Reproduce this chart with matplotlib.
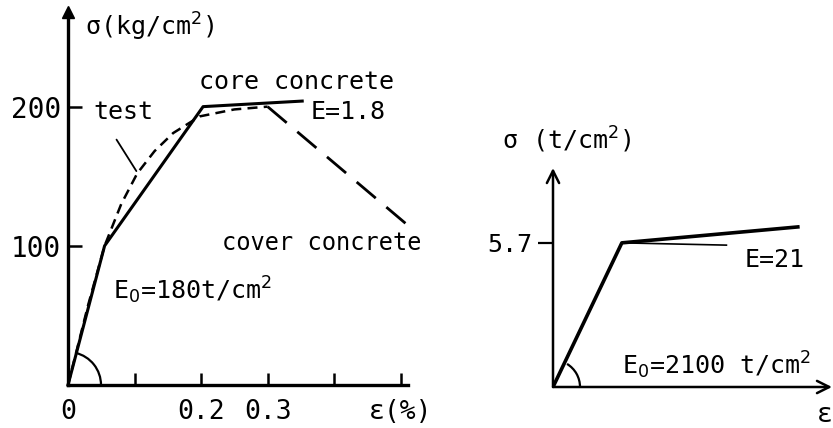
import matplotlib.pyplot as plt
import numpy as np
from matplotlib.patches import Arc

# concrete model (left), strain in %, stress in kg/cm2
core_strain = [0.0, 0.055, 0.203, 0.352]
core_stress = [0.0, 100.0, 200.0, 204.0]
test_strain = [0.0, 0.03, 0.055, 0.08, 0.104, 0.13, 0.158, 0.198, 0.25, 0.30]
test_stress = [0.0, 57.0, 100.0, 130.0, 152.0, 168.0, 181.0, 193.0, 198.0, 200.0]
cover_strain = [0.30, 0.52]
cover_stress = [200.0, 111.0]
conc_xticks = [0.0, 0.1, 0.2, 0.3, 0.4, 0.5]
conc_xlabels = ["0", "", "0.2", "0.3", "", "ε(%)"]
conc_yticks = [100, 200]

# steel model (right), stress in t/cm2
steel_strain = [0.0, 0.0027, 0.0096]
steel_stress = [0.0, 5.7, 6.33]
ref_strain = [0.0027, 0.0068]
ref_stress = [5.7, 5.61]

FONT = "DejaVu Sans Mono"
plt.rcParams["font.family"] = [FONT, "DejaVu Sans"]
plt.rcParams["mathtext.fontset"] = "dejavusans"


def angle_arc(ax, x, y, r_px):
    """Arc at the origin, from the x-axis up to the first line segment."""
    ax.figure.canvas.draw()
    p0 = ax.transData.transform((0, 0))
    p1 = ax.transData.transform((x, y))
    theta = np.degrees(np.arctan2(p1[1] - p0[1], p1[0] - p0[0]))
    bb = ax.get_window_extent()
    arc = Arc((0, 0), 2 * r_px / bb.width, 2 * r_px / bb.height,
              theta1=0, theta2=theta, transform=ax.transAxes,
              color="black", lw=1.6, clip_on=False)
    ax.add_patch(arc)


fig = plt.figure(figsize=(8.33, 4.28), dpi=100)

# ---- left panel ----
ax1 = fig.add_axes([68 / 833, 43 / 428, 340 / 833, 373 / 428])
ax1.set_xlim(0, 0.511)
ax1.set_ylim(0, 268)
for s in ["top", "right"]:
    ax1.spines[s].set_visible(False)
for s in ["left", "bottom"]:
    ax1.spines[s].set_linewidth(2.4)
ax1.plot(0, 1, marker="^", color="black", markersize=9,
         transform=ax1.get_xaxis_transform(), clip_on=False)

ax1.plot(core_strain, core_stress, color="black", lw=2.2, clip_on=False)
ax1.plot(test_strain, test_stress, color="black", lw=1.8,
         dashes=(4, 2.5), clip_on=False)
ax1.plot(cover_strain, cover_stress, color="black", lw=2.0,
         dashes=(9, 5), clip_on=False)

ax1.set_xticks(conc_xticks)
ax1.set_xticklabels(conc_xlabels, fontsize=19)
ax1.set_yticks(conc_yticks)
ax1.set_yticklabels([str(v) for v in conc_yticks], fontsize=20)
ax1.tick_params(axis="x", direction="in", length=9, width=1.8, pad=10)
ax1.tick_params(axis="y", direction="in", length=10, width=1.8, pad=5)

ax1.text(0.122, 257, "σ(kg/cm$^2$)", fontsize=18, ha="center", va="center",
         clip_on=False)
ax1.text(0.344, 218, "core concrete", fontsize=18, ha="center", va="center")
ax1.text(0.421, 196, "E=1.8", fontsize=18, ha="center", va="center")
ax1.text(0.083, 196, "test", fontsize=18, ha="center", va="center")
ax1.annotate("", xy=(0.105, 152), xytext=(0.0707, 178),
             arrowprops=dict(arrowstyle="-", color="black", lw=1.3))
ax1.text(0.382, 102, "cover concrete", fontsize=17, ha="center", va="center",
         clip_on=False)
ax1.text(0.187, 68, "E$_0$=180t/cm$^2$", fontsize=18, ha="center", va="center")

# ---- right panel ----
ax2 = fig.add_axes([553 / 833, 41 / 428, 279 / 833, 219 / 428])
ax2.set_xlim(0, 0.01094)
ax2.set_ylim(0, 8.66)
for s in ax2.spines.values():
    s.set_visible(False)
ax2.annotate("", xy=(1.0, 0), xytext=(0, 0), xycoords="axes fraction",
             arrowprops=dict(arrowstyle="->", color="black", lw=1.8,
                             mutation_scale=22, shrinkA=0, shrinkB=0))
ax2.annotate("", xy=(0, 1.0), xytext=(0, 0), xycoords="axes fraction",
             arrowprops=dict(arrowstyle="->", color="black", lw=1.8,
                             mutation_scale=22, shrinkA=0, shrinkB=0))

ax2.plot(steel_strain, steel_stress, color="black", lw=2.6)
ax2.plot(ref_strain, ref_stress, color="black", lw=1.2)

ax2.set_xticks([])
ax2.set_yticks([5.7])
ax2.set_yticklabels(["5.7"], fontsize=18)
ax2.tick_params(axis="y", direction="out", length=11, width=1.6, pad=4)

ax2.text(0.00055, 9.76, "σ (t/cm$^2$)", fontsize=18, ha="center",
         va="center", clip_on=False)
ax2.text(0.0087, 5.02, "E=21", fontsize=18, ha="center", va="center")
ax2.text(0.00643, 0.87, "E$_0$=2100 t/cm$^2$", fontsize=18, ha="center",
         va="center")
ax2.text(0.01067, -1.1, "ε", fontsize=19, ha="center", va="center",
         clip_on=False)

angle_arc(ax1, core_strain[1], core_stress[1], 33)
angle_arc(ax2, steel_strain[1], steel_stress[1], 27)

fig.savefig("out.png", dpi=100)
